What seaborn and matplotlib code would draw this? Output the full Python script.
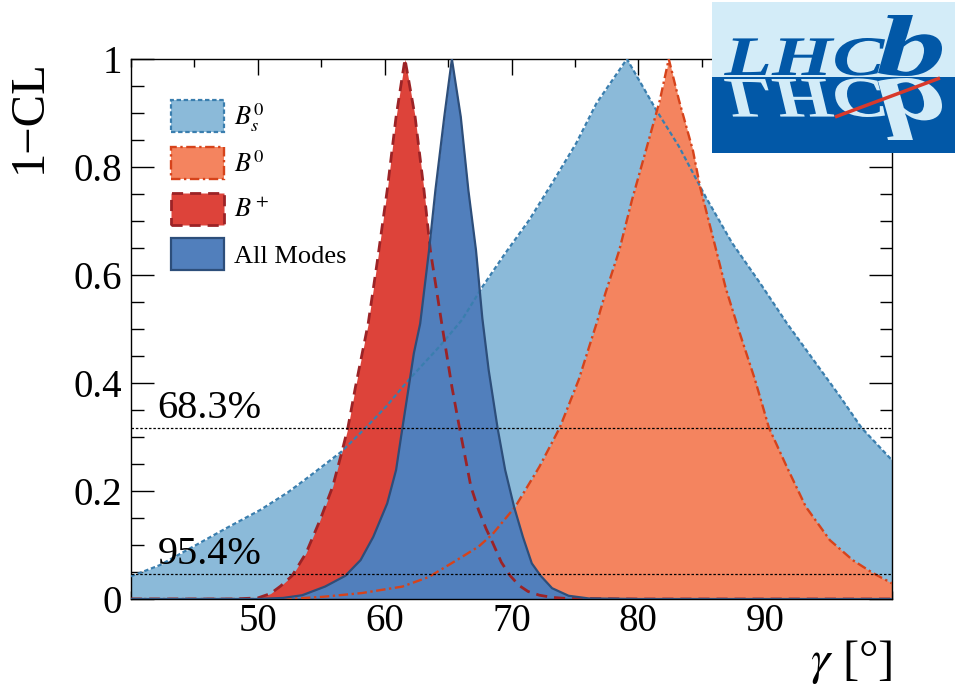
import matplotlib
matplotlib.use("Agg")
import matplotlib.pyplot as plt
import seaborn as sns
from matplotlib.patches import Patch, Rectangle, PathPatch
from matplotlib.textpath import TextPath
from matplotlib.font_manager import FontProperties
from matplotlib.transforms import Affine2D
from matplotlib.ticker import MultipleLocator, FuncFormatter

sns.set_theme(style="ticks")
plt.rcParams['font.family'] = ['Liberation Serif', 'DejaVu Serif']
plt.rcParams['mathtext.fontset'] = 'stix'
for key in ['text.color', 'axes.labelcolor', 'xtick.color', 'ytick.color']:
    plt.rcParams[key] = 'black'

# 1-CL profiles, gamma in degrees
bs_gamma = [40.0, 42.3, 44.9, 47.5, 50.2, 52.4, 54.0, 56.6, 58.5, 60.1,
            61.9, 64.3, 66.1, 67.7, 69.5, 71.4, 73.2, 75.1, 76.7, 79.1,
            81.4, 83.2, 85.3, 87.4, 89.6, 91.7, 93.8, 95.9, 97.6, 100.0]
bs_cl = [0.042, 0.063, 0.097, 0.131, 0.165, 0.198, 0.226, 0.273, 0.317, 0.356,
         0.406, 0.467, 0.517, 0.578, 0.640, 0.702, 0.770, 0.844, 0.918, 1.0,
         0.906, 0.838, 0.745, 0.659, 0.585, 0.511, 0.443, 0.375, 0.317, 0.257]

b0_gamma = [40.0, 50.0, 53.0, 55.1, 58.2, 61.4, 63.5, 66.1, 67.4, 68.5,
            70.3, 72.2, 73.8, 75.3, 76.7, 77.4, 78.5, 79.5, 80.6, 81.7,
            82.4, 83.2, 84.3, 84.9, 85.9, 86.9, 88.0, 89.2, 90.3, 91.7,
            93.2, 95.1, 96.9, 98.5, 100.0]
b0_cl = [0.0, 0.0, 0.001, 0.004, 0.011, 0.023, 0.041, 0.078, 0.097, 0.12,
         0.171, 0.245, 0.317, 0.406, 0.51, 0.566, 0.646, 0.739, 0.831, 0.924,
         1.0, 0.924, 0.831, 0.76, 0.668, 0.575, 0.492, 0.406, 0.317, 0.245,
         0.171, 0.109, 0.072, 0.048, 0.029]

bp_gamma = [40.0, 48.0, 50.0, 51.0, 51.8, 52.7, 53.8, 54.9, 55.9, 56.6,
            57.1, 57.7, 58.7, 59.4, 60.2, 60.9, 61.6, 62.4, 63.1, 63.6,
            64.5, 65.3, 65.9, 66.8, 67.4, 68.0, 68.5, 69.2, 69.9, 70.6,
            71.3, 72.2, 73.2, 74.3, 80.0, 100.0]
bp_cl = [0.0, 0.0, 0.002, 0.010, 0.024, 0.043, 0.085, 0.146, 0.208, 0.270,
         0.317, 0.393, 0.510, 0.622, 0.757, 0.893, 1.0, 0.893, 0.757, 0.646,
         0.510, 0.393, 0.317, 0.208, 0.165, 0.130, 0.105, 0.068, 0.043, 0.025,
         0.014, 0.007, 0.003, 0.001, 0.0, 0.0]

all_gamma = [40.0, 50.0, 52.0, 53.5, 55.3, 56.9, 58.1, 59.1, 60.2, 60.9,
             61.4, 61.9, 62.3, 62.8, 63.5, 64.0, 64.7, 65.3, 66.0, 66.6,
             67.2, 67.7, 68.2, 68.9, 69.5, 70.2, 70.9, 71.6, 72.3, 73.2,
             74.5, 76.1, 80.0, 100.0]
all_cl = [0.0, 0.0, 0.002, 0.007, 0.023, 0.043, 0.072, 0.115, 0.177, 0.239,
          0.317, 0.393, 0.455, 0.51, 0.646, 0.757, 0.893, 1.0, 0.893, 0.757,
          0.646, 0.52, 0.424, 0.317, 0.239, 0.171, 0.115, 0.066, 0.043, 0.020,
          0.006, 0.001, 0.0, 0.0]

cl_levels = [0.317, 0.046]
cl_labels = ["68.3%", "95.4%"]

# label, x, y, fill, edge, linestyle, linewidth
curves = [
    (r"$B^0_s$", bs_gamma, bs_cl, "#8bbad9", "#3a7eae", (0, (2, 1.2)), 1.6),
    (r"$B^0$", b0_gamma, b0_cl, "#f4845f", "#d6431b", (0, (4, 1.5, 1, 1.5)), 1.7),
    (r"$B^+$", bp_gamma, bp_cl, "#dd433a", "#9c2326", (0, (4, 2.5)), 2.0),
    ("All Modes", all_gamma, all_cl, "#517fbc", "#2d4e7a", "-", 1.6),
]

fig = plt.figure(figsize=(9.55, 6.93), dpi=100)
ax = fig.add_axes([131 / 955, 1 - 599 / 693, 761 / 955, 540 / 693])

for label, g, cl, fc, ec, ls, lw in curves:
    ax.fill_between(g, 0, cl, color=fc, lw=0, zorder=1)
for label, g, cl, fc, ec, ls, lw in curves:
    sns.lineplot(x=g, y=cl, color=ec, linestyle=ls, linewidth=lw,
                 sort=False, estimator=None, ax=ax, zorder=3)

for lev, txt in zip(cl_levels, cl_labels):
    ax.axhline(lev, color="black", lw=0.9, ls=(0, (2, 1.5)), zorder=4)
    ax.text(42.1, lev + 0.019, txt, fontsize=29, va="baseline", zorder=5)

ax.set_xlim(40, 100)
ax.set_ylim(0, 1)
ax.set_xticks([50, 60, 70, 80, 90])
ax.xaxis.set_minor_locator(MultipleLocator(5))
ax.set_yticks([0, 0.2, 0.4, 0.6, 0.8, 1.0])
ax.yaxis.set_minor_locator(MultipleLocator(0.05))
ax.yaxis.set_major_formatter(FuncFormatter(lambda v, p: "%g" % v))
ax.tick_params(which="both", direction="in", top=True, right=True,
               width=1, color="black", labelsize=28)
ax.tick_params(axis="x", which="major", length=11.5, pad=3.0)
ax.tick_params(axis="x", which="minor", length=5.8)
ax.tick_params(axis="y", which="major", length=16.5, pad=6.5)
ax.tick_params(axis="y", which="minor", length=9)
for sp in ax.spines.values():
    sp.set_color("black")
    sp.set_linewidth(1)
ax.set_facecolor("white")

ax.set_ylabel("1\u2212CL", fontsize=35, loc="top")
ax.yaxis.set_label_coords(-0.105, 1.0)
ax.set_xlabel(r"$\gamma$ [°]", fontsize=35, loc="right")
ax.xaxis.set_label_coords(1.0, -0.072)

handles = [Patch(facecolor=fc, edgecolor=ec, linestyle=ls, linewidth=lw, label=label)
           for label, g, cl, fc, ec, ls, lw in curves]
ax.legend(handles=handles, loc="upper left", bbox_to_anchor=(40 / 761, 499 / 540),
          frameon=False, fontsize=19, borderpad=0, borderaxespad=0,
          handlelength=2.0, handleheight=1.5, labelspacing=0.5, handletextpad=0.4)

# LHCb logo, drawn in figure pixel coordinates
logo = fig.add_axes([712 / 955, 1 - 153 / 693, 243 / 955, 151 / 693])
logo.set_xlim(712, 955)
logo.set_ylim(153, 2)
logo.axis("off")
logo.add_patch(Rectangle((712, 2), 243, 75, color="#d3ecf8", lw=0))
logo.add_patch(Rectangle((712, 77), 243, 76, color="#0258a7", lw=0))

logo_font = FontProperties(family="Liberation Serif", style="italic", weight="bold")


def place_text(s, x0, x1, base, top, color, mirror=False):
    tp = TextPath((0, 0), s, size=1, prop=logo_font)
    ext = tp.get_extents()
    sx = (x1 - x0) / ext.width
    sy = abs(base - top) / ext.y1
    tr = Affine2D().translate(-ext.x0, 0).scale(sx, sy if mirror else -sy).translate(x0, base)
    logo.add_patch(PathPatch(tr.transform_path(tp), color=color, lw=0))


place_text("LHC", 724, 885, 75, 38, "#0258a7")
place_text("b", 878, 942, 75, 15, "#0258a7")
place_text("LHC", 724, 885, 79, 117, "#d3ecf8", mirror=True)
place_text("b", 878, 942, 79, 140, "#d3ecf8", mirror=True)
logo.plot([835, 940], [117, 78], color="#d8392b", lw=2.5, solid_capstyle="butt")

fig.savefig("out.png", dpi=100)
